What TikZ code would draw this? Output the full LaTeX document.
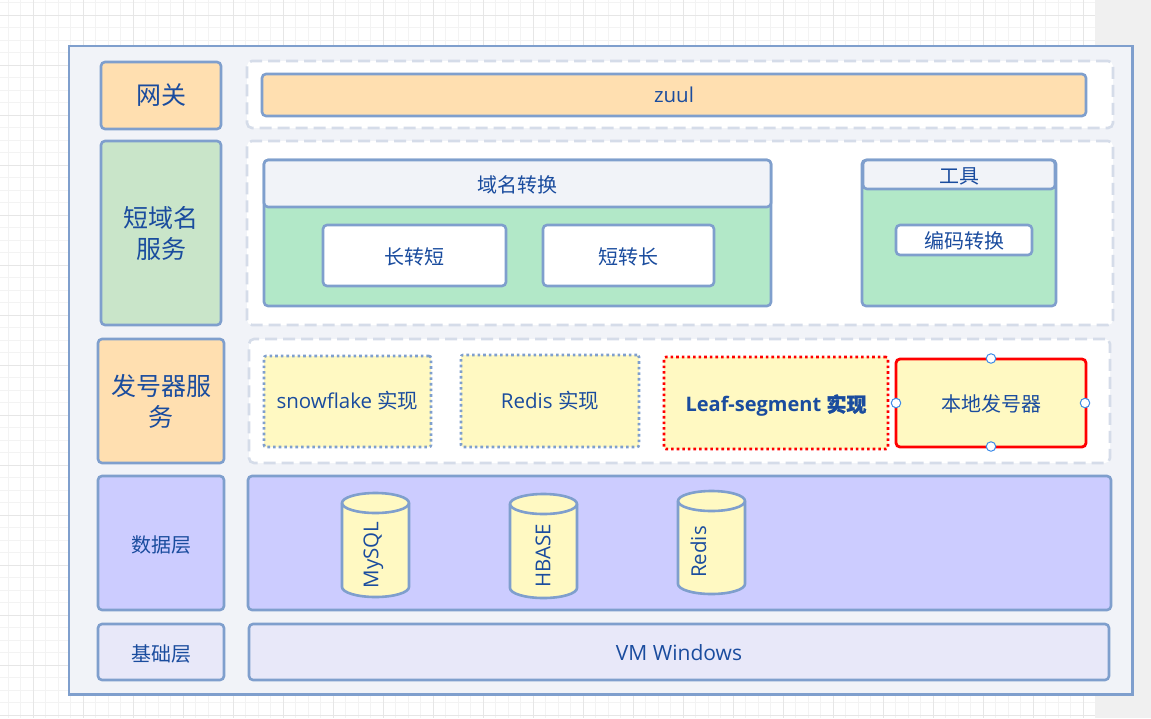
\documentclass[tikz,border=0pt]{standalone}
\usepackage{fontspec}
\setmainfont{Open Sans}
\newfontfamily\cjk{Noto Sans CJK SC}
\newfontfamily\cjkb[FakeBold=1.5]{Noto Sans CJK SC}
\definecolor{edgeblue}{HTML}{7F9FCD}
\definecolor{inkblue}{HTML}{1A4C9E}
\definecolor{paleback}{HTML}{F1F3F8}
\definecolor{dashgrey}{HTML}{D5DCE9}
\definecolor{orangefill}{HTML}{FFDFB0}
\definecolor{sagefill}{HTML}{C9E5C9}
\definecolor{mintfill}{HTML}{B2E8C8}
\definecolor{lemonfill}{HTML}{FFF9C2}
\definecolor{lilacfill}{HTML}{CCCCFF}
\definecolor{palelilac}{HTML}{E8E8F9}
\definecolor{handleblue}{HTML}{3D8BE8}
\definecolor{gridminor}{HTML}{F3F3F3}
\definecolor{gridmajor}{HTML}{E6E6E6}
\definecolor{sidegrey}{HTML}{F0F0F0}
\newcommand{\px}[1]{\fontsize{#1}{#1}\selectfont}
\newcommand{\dn}[2]{\raisebox{-#1pt}[\height][\depth]{#2}}
\newcommand{\bx}[7]{%
  \pgfmathsetmacro{\bw}{#5-#3}\pgfmathsetmacro{\bh}{#6-#4}%
  \node[#2,anchor=north west,minimum width=\bw pt,minimum height=\bh pt] (#1) at (#3,#4) {#7};}
\newcommand{\cyl}[8]{% name x1 y1 x2 y2 label labelx labely
  \pgfmathsetmacro{\cx}{(#2+#4)/2}\pgfmathsetmacro{\rx}{(#4-#2)/2}%
  \pgfmathsetmacro{\topy}{#3+10}\pgfmathsetmacro{\boty}{#5-10}%
  \draw[edgeline,fill=lemonfill] (#2,\topy) arc[x radius=\rx,y radius=10,start angle=-180,end angle=0] -- (#4,\boty) arc[x radius=\rx,y radius=10,start angle=0,end angle=180] -- cycle;
  \draw[edgeline] (#2,\topy) arc[x radius=\rx,y radius=10,start angle=180,end angle=0];
  \node[rotate=90,textlabel,latin] (#1) at (#7,#8) {#6};}
\tikzset{
  edgeline/.style={draw=edgeblue,line width=2.6pt},
  textlabel/.style={text=inkblue,inner sep=0pt,outer sep=0pt,align=center},
  latin/.style={font=\px{20.5}},
  latinb/.style={font=\px{20}\bfseries},
  han/.style={font=\px{20}\cjk},
  bighan/.style={font=\px{25}\cjk},
  card/.style={textlabel,edgeline,rounded corners=4pt},
  panel/.style={textlabel,draw=dashgrey,line width=2.6pt,dash pattern=on 12pt off 6pt,rounded corners=5pt,fill=white},
  dotblue/.style={textlabel,draw=edgeblue,line width=2.6pt,dash pattern=on 2.6pt off 3pt,rounded corners=2pt,fill=lemonfill},
  dotred/.style={textlabel,draw=red,line width=2.6pt,dash pattern=on 2.6pt off 3pt,rounded corners=2pt,fill=lemonfill},
  handle/.style={circle,draw=handleblue,fill=white,line width=1pt,inner sep=0pt,minimum size=9.5pt},
}
\begin{document}
\begin{tikzpicture}[x=1pt,y=-1pt]
\useasboundingbox (0,0) rectangle (1151,718);
\fill[white] (0,0) rectangle (1151,718);
\foreach \g in {0,...,88}{\draw[gridminor,line width=1pt] (8+12.5*\g,0) -- (8+12.5*\g,718);}
\foreach \g in {0,...,57}{\draw[gridminor,line width=1pt] (0,2.5+12.5*\g) -- (1151,2.5+12.5*\g);}
\foreach \g in {0,...,21}{\draw[gridmajor,line width=1pt] (33+50*\g,0) -- (33+50*\g,718);}
\foreach \g in {0,...,14}{\draw[gridmajor,line width=1pt] (0,15+50*\g) -- (1151,15+50*\g);}
\fill[sidegrey] (1095,0) rectangle (1151,718);

\bx{outer}{draw=edgeblue,line width=2.7pt,fill=paleback,inner sep=0pt,outer sep=0pt}{69}{46}{1132.5}{694.5}{}

\bx{gwpanel}{panel}{247}{61}{1113}{128}{}
\bx{svcpanel}{panel}{247}{141}{1113}{325}{}
\bx{genpanel}{panel}{249}{339}{1110}{463}{}

\bx{gw}{card,fill=orangefill,bighan}{101}{62}{221}{129}{网关}
\bx{zuul}{card,fill=orangefill,latin}{262}{74}{1086}{116}{zuul}
\bx{svc}{card,fill=sagefill,bighan}{101}{141}{221}{325}{短域名\\[6pt]服务}

\bx{domain}{card,fill=mintfill}{264}{160}{771}{306}{}
\bx{domainhead}{card,fill=paleback,han}{264}{160}{771}{207}{\dn{1}{域名转换}}
\bx{l2s}{card,fill=white,han}{323}{225}{506}{286}{\dn{1}{长转短}}
\bx{s2l}{card,fill=white,han}{543}{225}{714}{286}{\dn{1}{短转长}}

\bx{tool}{card,fill=mintfill}{862}{160}{1056}{306}{}
\bx{toolhead}{card,fill=paleback,han}{863}{160}{1055}{189}{\dn{1.5}{工具}}
\bx{codec}{card,fill=white,han}{896}{225}{1032}{255}{\dn{1}{编码转换}}

\bx{gen}{card,fill=orangefill,bighan}{98}{339}{224}{463}{发号器服\\[6pt]务}
\bx{snow}{dotblue,latin}{264}{356}{431}{447}{\dn{-0.5}{snowflake {\cjk 实现}}}
\bx{redisimpl}{dotblue,latin}{461}{355}{639}{447}{Redis {\cjk 实现}}
\bx{leaf}{dotred,latinb}{664}{357}{888}{449}{\dn{2.5}{Leaf-segment {\cjkb 实现}}}
\bx{localgen}{textlabel,draw=red,line width=2.8pt,rounded corners=4pt,fill=lemonfill,han}{896}{359}{1086}{447}{\dn{1}{本地发号器}}
\node[handle] (h1) at (991,358.5) {};
\node[handle] (h2) at (896,403) {};
\node[handle] (h3) at (1085,403) {};
\node[handle] (h4) at (991,446.5) {};

\bx{datalabel}{card,fill=lilacfill,han}{98}{476}{224}{610}{\dn{1.5}{数据层}}
\bx{data}{card,fill=lilacfill}{248}{476}{1111}{610}{}
\cyl{mysql}{342}{493}{409}{597}{MySQL}{373.5}{555}
\cyl{hbase}{510}{494}{577}{598}{HBASE}{543}{556}
\cyl{redisdb}{678}{491}{745}{594}{Redis}{698.5}{552}

\bx{baselabel}{card,fill=palelilac,han}{98}{624}{224}{680}{\dn{1.5}{基础层}}
\bx{vm}{card,fill=palelilac,font=\px{21}}{249}{624}{1109}{680}{\dn{1}{VM Windows}}
\end{tikzpicture}
\end{document}
